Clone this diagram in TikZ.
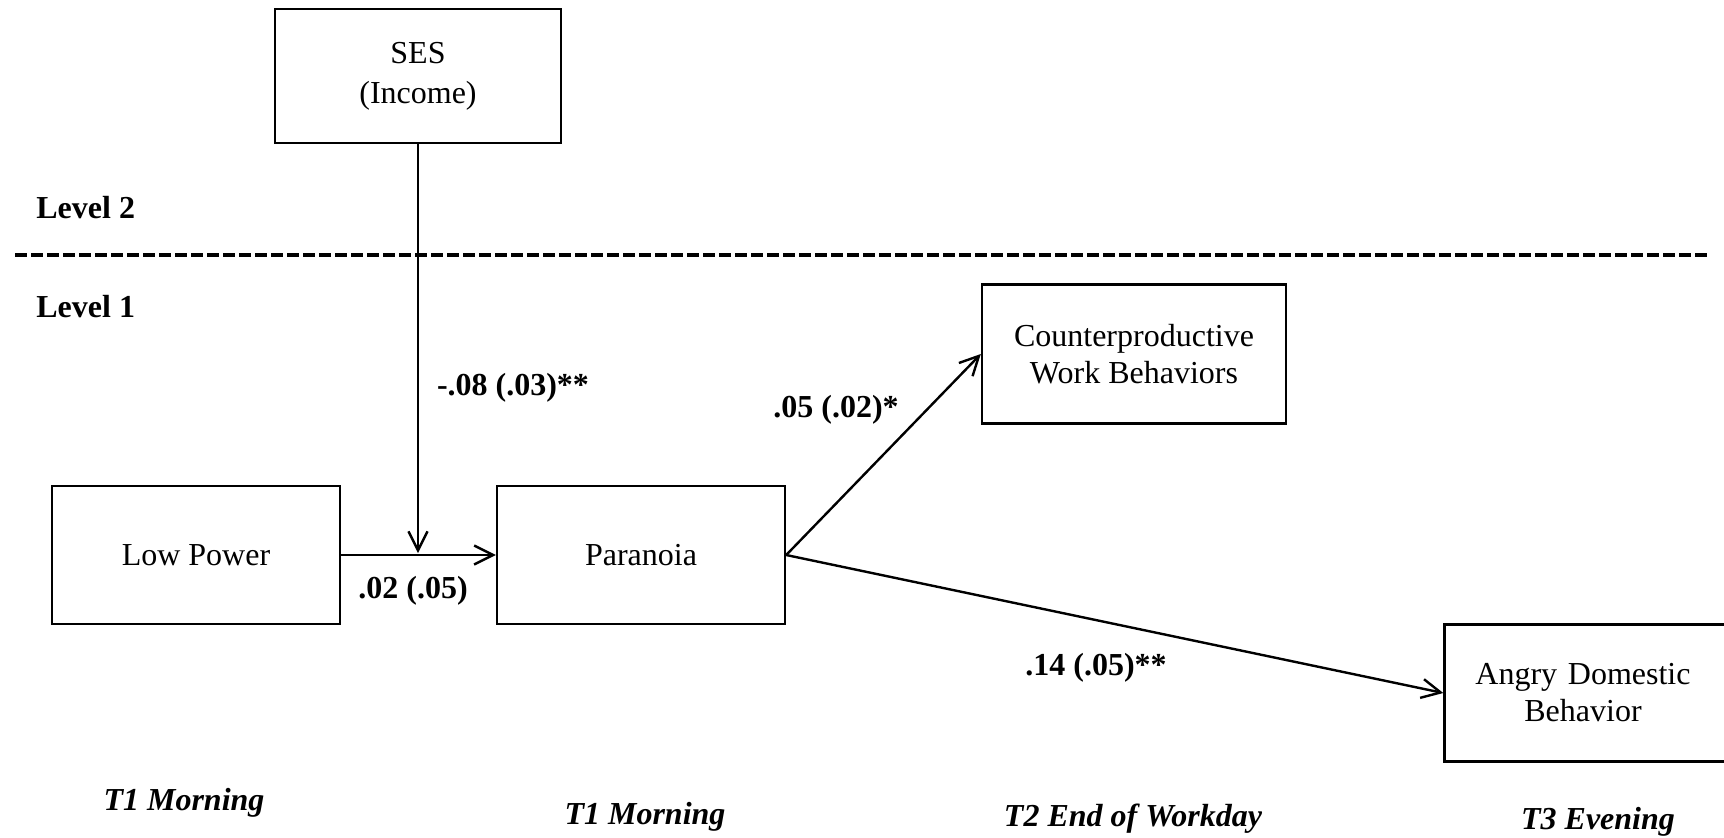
\documentclass[tikz,border=0pt]{standalone}
\usepackage{fontspec}
\setmainfont{Liberation Serif}
\usetikzlibrary{arrows.meta}
\begin{document}
\begin{tikzpicture}[x=0.5pt,y=-0.5pt,
  box/.style={draw, line width=1.2pt, minimum width=143pt, minimum height=68pt, inner sep=0pt, align=center, font=\fontsize{16}{18.5}\selectfont},
  lbl/.style={font=\fontsize{16}{19}\selectfont\bfseries, inner sep=0pt},
  tlbl/.style={font=\fontsize{16}{19}\selectfont\bfseries\itshape, inner sep=0pt},
  arr/.style={line width=1.2pt, -{Straight Barb[length=9.5pt,width=9.5pt]}}]
\useasboundingbox (0,0) rectangle (1724,837);
% boxes
\node[box, font=\fontsize{16}{20}\selectfont, minimum width=143pt, minimum height=67pt] (ses) at (418,76) {SES\\(Income)};
\node[box, minimum width=144pt, minimum height=69pt] (lp) at (196,555) {Low Power};
\node[box, minimum width=144pt, minimum height=69pt] (par) at (641,555) {Paranoia};
\node[box, minimum width=152pt, minimum height=69.5pt] (cwb) at (1134,354) {Counterproductive\\Work Behaviors};
\node[box, minimum width=141.5pt, minimum height=68.5pt, text width=141.5pt] (adb) at (1586,693) {\hspace*{-3pt}Angry Domestic\\\hspace*{-3pt}Behavior};
% level labels and divider
\node[lbl, anchor=west] (l2) at (36,208) {Level 2};
\node[lbl, anchor=west] (l1) at (36,307) {Level 1};
\coordinate (dl) at (15,255);
\coordinate (dr) at (1708,255);
\draw[line width=1.75pt, dash pattern=on 6pt off 2pt] (dl) -- (dr);
% connectors
\coordinate (m) at (418,553);
\draw[arr] (lp.east) -- (par.west);
\draw[arr] (ses.south) -- (m);
\draw[arr] (par.east) -- (cwb.west);
\draw[arr] (par.east) -- (adb.west);
% path labels
\node[lbl] (e1) at (513,388) {-.08 (.03)**};
\node[lbl] (e2) at (413,591) {.02 (.05)};
\node[lbl] (e3) at (836,410) {.05 (.02)*};
\node[lbl] (e4) at (1096,668) {.14 (.05)**};
% time labels
\node[tlbl] (t1) at (184,803) {T1 Morning};
\node[tlbl] (t2) at (645,817) {T1 Morning};
\node[tlbl] (t3) at (1133,819) {T2 End of Workday};
\node[tlbl] (t4) at (1598,822) {T3 Evening};
\end{tikzpicture}
\end{document}
